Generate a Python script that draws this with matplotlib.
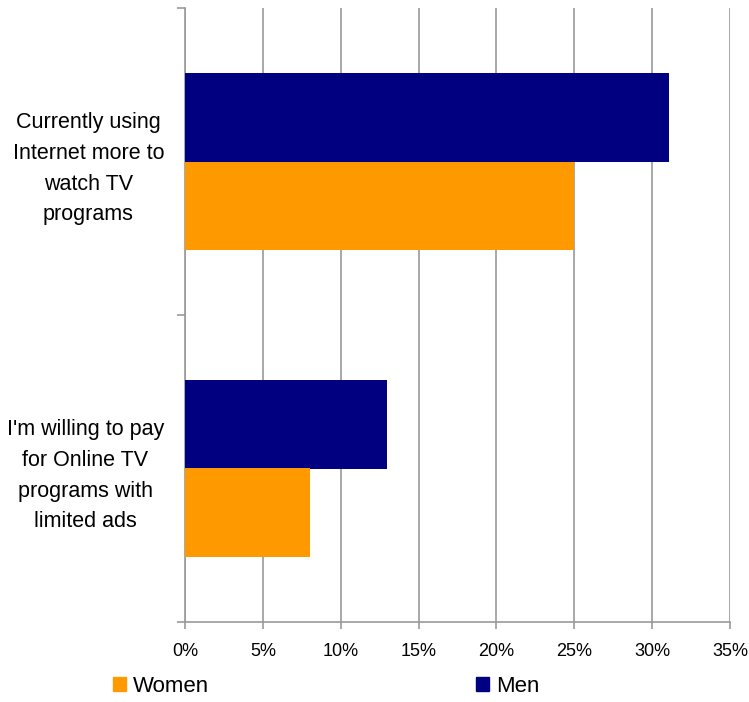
import numpy as np
import matplotlib.pyplot as plt
from matplotlib.patches import Patch

plt.rcParams['font.family'] = ['Liberation Sans', 'DejaVu Sans']

# Survey answers, bottom category first
categories = ["I'm willing to pay\nfor Online TV\nprograms with\nlimited ads",
              "Currently using\nInternet more to\nwatch TV\nprograms"]
women = [8.0, 25.0]
men = [13.0, 31.1]
xticks = [0, 5, 10, 15, 20, 25, 30, 35]

fig = plt.figure(figsize=(7.49, 7.02), dpi=100)
ax = fig.add_axes([185 / 749, 80 / 702, 545 / 749, 614 / 702])

y = np.arange(len(categories))
h = 0.287
ax.barh(y + h / 2, men, height=h, color='#000080', label='Men', zorder=3)
ax.barh(y - h / 2, women, height=h, color='#ff9900', label='Women', zorder=3)

ax.set_xlim(0, 35)
ax.set_ylim(-0.5, 1.5)
ax.set_xticks(xticks)
ax.set_xticklabels([f'{v}%' for v in xticks], fontsize=13)
ax.xaxis.grid(True, color='#999999', linewidth=1.2, zorder=0)

# boundary ticks on the category axis, labels centred between them
ax.set_yticks([-0.5, 0.5, 1.5])
ax.set_yticklabels([])
ax.set_yticks(y, minor=True)
ax.set_yticklabels(categories, minor=True, fontsize=15.5)
ax.tick_params(axis='y', which='minor', length=0, pad=15)
ax.tick_params(axis='y', which='major', length=6, color='#999999', width=1.2)
ax.tick_params(axis='x', length=5, color='#999999', width=1.2, pad=10)
for lbl in ax.get_yticklabels(minor=True):
    lbl.set_multialignment('center')
    lbl.set_linespacing(1.6)

for side in ['top', 'right']:
    ax.spines[side].set_visible(False)
for side in ['left', 'bottom']:
    ax.spines[side].set_color('#999999')
    ax.spines[side].set_linewidth(1.2)

handles = [Patch(color='#ff9900', label='Women'), Patch(color='#000080', label='Men')]
fig.legend(handles=handles, loc='center left', bbox_to_anchor=(102 / 749, 16 / 702),
           ncol=2, frameon=False, fontsize=16, handlelength=0.6, handleheight=0.6,
           handletextpad=0.3, columnspacing=12.0, borderpad=0)

fig.savefig('out.png', dpi=100)
